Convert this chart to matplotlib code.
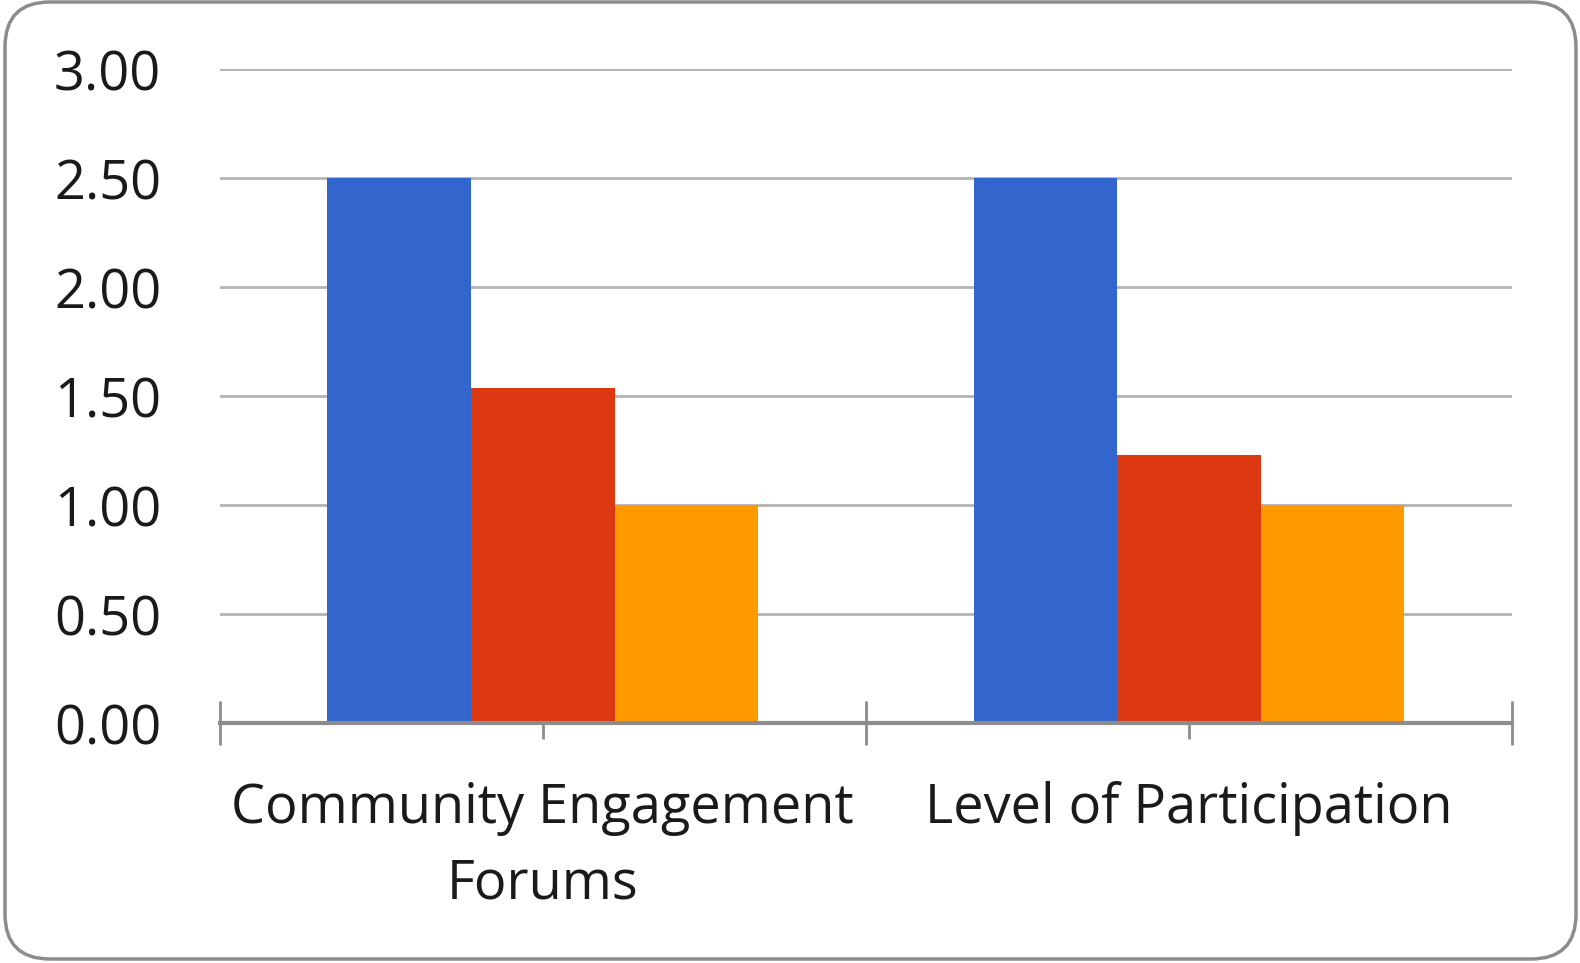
import numpy as np
import matplotlib.pyplot as plt
from matplotlib.patches import FancyBboxPatch

# data
categories = ['Community Engagement\nForums', 'Level of Participation']
series_1 = [2.50, 2.50]
series_2 = [1.54, 1.23]
series_3 = [1.00, 1.00]
colors = ['#3366CC', '#DC3912', '#FF9900']
y_ticks = [0.0, 0.5, 1.0, 1.5, 2.0, 2.5, 3.0]

plt.rcParams['font.family'] = ['Open Sans', 'DejaVu Sans']

fig = plt.figure(figsize=(15.8, 9.63), dpi=100)
ax = fig.add_axes([0.139, 0.249, 0.818, 0.679])

x = np.arange(len(categories))
w = 2 / 9
for i, vals in enumerate([series_1, series_2, series_3]):
    ax.bar(x + (i - 1) * w, vals, width=w, color=colors[i], zorder=3)

ax.set_xlim(-0.5, len(categories) - 0.5)
ax.set_ylim(0, 3)
ax.set_yticks(y_ticks)
ax.set_yticklabels(['%.2f' % v for v in y_ticks])
ax.yaxis.grid(True, color='#b3b3b3', linewidth=2, zorder=0)
ax.tick_params(axis='y', length=0, pad=42, labelsize=39, labelcolor='#1a1a1a')

ax.set_xticks(x)
ax.set_xticklabels(categories, linespacing=1.5)
ax.set_xticks(np.arange(len(categories) + 1) - 0.5, minor=True)
ax.tick_params(axis='x', which='major', direction='inout', length=23, width=2,
               color='#8c8c8c', pad=30, labelsize=39, labelcolor='#1a1a1a')
ax.tick_params(axis='x', which='minor', direction='inout', length=31, width=2,
               color='#8c8c8c')

for s in ['top', 'right', 'left']:
    ax.spines[s].set_visible(False)
ax.spines['bottom'].set_color('#8c8c8c')
ax.spines['bottom'].set_linewidth(3)
ax.spines['bottom'].set_zorder(4)

# rounded frame around the chart
frame = FancyBboxPatch((5, 4), 1571, 957, boxstyle='round,pad=0,rounding_size=45',
                       transform=None, facecolor='none', edgecolor='#8c8c8c',
                       linewidth=2.5)
fig.patches.append(frame)

fig.savefig('out.png', dpi=100)
